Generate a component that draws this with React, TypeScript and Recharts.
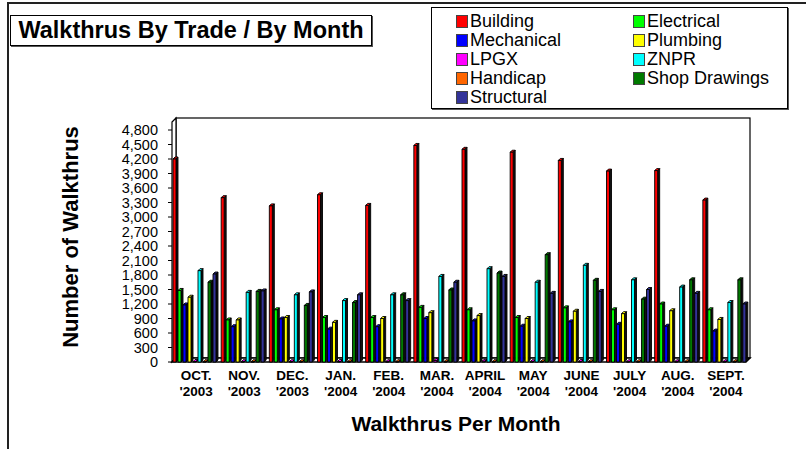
import React from "react";
import { BarChart, Bar, XAxis, YAxis, Customized } from "recharts";

const months = ["OCT.", "NOV.", "DEC.", "JAN.", "FEB.", "MAR.", "APRIL", "MAY", "JUNE", "JULY", "AUG.", "SEPT."];
const years = ["'2003", "'2003", "'2003", "'2004", "'2004", "'2004", "'2004", "'2004", "'2004", "'2004", "'2004", "'2004"];

const building = [4200, 3400, 3230, 3460, 3240, 4480, 4400, 4340, 4170, 3950, 3960, 3350];
const electrical = [1480, 870, 1080, 920, 920, 1130, 1080, 920, 1120, 1080, 1200, 1080];
const mechanical = [1180, 730, 890, 680, 730, 900, 850, 740, 830, 780, 740, 640];
const plumbing = [1340, 870, 920, 820, 900, 1020, 960, 900, 1050, 1000, 1060, 880];
const lpgx = [10, 5, 5, 10, 5, 30, 15, 5, 10, 5, 5, 5];
const znpr = [1890, 1440, 1390, 1270, 1390, 1770, 1930, 1650, 2000, 1700, 1550, 1230];
const handicap = [5, 5, 5, 5, 5, 5, 5, 5, 5, 5, 5, 5];
const shopDrawings = [1650, 1460, 1170, 1230, 1390, 1490, 1840, 2220, 1690, 1300, 1700, 1700];
const structural = [1820, 1470, 1450, 1390, 1270, 1650, 1770, 1420, 1460, 1500, 1420, 1200];

const yTicks = [0, 300, 600, 900, 1200, 1500, 1800, 2100, 2400, 2700, 3000, 3300, 3600, 3900, 4200, 4500, 4800];

const series = [
  { key: "Building", values: building, color: "#FF0000" },
  { key: "Electrical", values: electrical, color: "#00FF00" },
  { key: "Mechanical", values: mechanical, color: "#0000FF" },
  { key: "Plumbing", values: plumbing, color: "#FFFF00" },
  { key: "LPGX", values: lpgx, color: "#FF00FF" },
  { key: "ZNPR", values: znpr, color: "#00FFFF" },
  { key: "Handicap", values: handicap, color: "#FF6600" },
  { key: "Shop Drawings", values: shopDrawings, color: "#007A00" },
  { key: "Structural", values: structural, color: "#333399" },
];

const data = months.map((m, i) => {
  const row: Record<string, any> = { month: m, year: years[i] };
  series.forEach((s) => (row[s.key] = s.values[i]));
  return row;
});

const FONT = "Arial, 'Liberation Sans', sans-serif";

// plot box (matches chart margins below)
const PL = 172;
const PR = 750;
const PT = 130;
const PB = 362;
const D = 4;

const Bar3D = (props: any) => {
  const { x, y, width, height, fill } = props;
  if (!width || height == null || height <= 0) return null;
  const d = 2;
  const w = width - d;
  return (
    <g stroke="#000" strokeWidth={0.9} strokeLinejoin="round">
      <polygon points={`${x},${y} ${x + d},${y - d} ${x + w + d},${y - d} ${x + w},${y}`} fill={fill} />
      <polygon
        points={`${x + w},${y} ${x + w + d},${y - d} ${x + w + d},${y + height - d} ${x + w},${y + height}`}
        fill="#111"
      />
      <rect x={x} y={y} width={w} height={height} fill={fill} />
    </g>
  );
};

const Walls = () => (
  <g fill="none" stroke="#000">
    <rect x={PL + D} y={118} width={PR - PL - D} height={PB - D - 118} fill="#fff" strokeWidth={1.2} />
    <polygon points={`${PL},${122} ${PL + D},${118} ${PL + D},${PB - D} ${PL},${PB}`} fill="#fff" strokeWidth={1.2} />
    <polygon points={`${PL},${PB} ${PL + D},${PB - D} ${PR},${PB - D} ${PR - D},${PB}`} fill="#fff" strokeWidth={1.5} />
  </g>
);

const Titles = () => (
  <g fontFamily={FONT} fontWeight="bold" fill="#000">
    <text x={456} y={431} textAnchor="middle" fontSize={21}>
      Walkthrus Per Month
    </text>
    <text x={78} y={237} textAnchor="middle" fontSize={22} transform="rotate(-90 78 237)">
      Number of Walkthrus
    </text>
  </g>
);

const MonthTick = (props: any) => {
  const { x, payload } = props;
  const i = months.indexOf(payload.value);
  return (
    <text x={x} y={PB} textAnchor="middle" fontFamily={FONT} fontWeight="bold" fontSize={13.5} fill="#000">
      <tspan x={x} y={PB + 18}>{payload.value}</tspan>
      <tspan x={x} y={PB + 34}>{years[i]}</tspan>
    </text>
  );
};

const LegendBox = () => (
  <div
    style={{
      position: "absolute",
      left: 431,
      top: 7,
      width: 357,
      height: 102,
      border: "1px solid #000",
      boxShadow: "1px 1px 0 #555",
      background: "#fff",
      boxSizing: "border-box",
      padding: "4px 0 0 24px",
      display: "grid",
      gridTemplateColumns: "177px 150px",
      gridAutoRows: "19px",
      fontFamily: FONT,
      fontSize: 18,
      color: "#000",
    }}
  >
    {series.map((s) => (
      <div key={s.key} style={{ display: "flex", alignItems: "center", whiteSpace: "nowrap", lineHeight: "19px" }}>
        <span
          style={{
            display: "inline-block",
            width: 10,
            height: 11,
            background: s.color,
            border: "1px solid #444",
            marginRight: 2,
          }}
        />
        {s.key}
      </div>
    ))}
  </div>
);

export default function App() {
  return (
    <div style={{ position: "absolute", left: 0, top: 0, width: 806, height: 449, background: "#fff", overflow: "hidden" }}>
      <div
        style={{
          position: "absolute",
          left: 7,
          top: 2,
          width: 820,
          height: 460,
          borderTop: "2px solid #222",
          borderLeft: "2px solid #222",
        }}
      />
      <div
        style={{
          position: "absolute",
          left: 10,
          top: 15,
          width: 362,
          height: 31,
          boxSizing: "border-box",
          border: "1px solid #000",
          boxShadow: "1px 1px 0 #555",
          fontFamily: FONT,
          fontWeight: "bold",
          fontSize: 23.5,
          lineHeight: "29px",
          textAlign: "center",
          background: "#fff",
          whiteSpace: "nowrap",
        }}
      >
        Walkthrus By Trade / By Month
      </div>
      <LegendBox />
      <BarChart
        width={806}
        height={449}
        data={data}
        margin={{ top: PT, right: 806 - PR, bottom: 449 - PB - 30, left: PL - 60 }}
        barCategoryGap={1}
        barGap={0}
        style={{ position: "absolute", left: 0, top: 0 }}
      >
        <Customized component={Walls} />
        <XAxis dataKey="month" axisLine={false} tickLine={false} tick={<MonthTick />} interval={0} height={30} />
        <YAxis
          domain={[0, 4800]}
          ticks={yTicks}
          interval={0}
          axisLine={false}
          tickLine={{ stroke: "#000" }}
          tickSize={4}
          tickMargin={10}
          width={60}
          tickFormatter={(v: number) => v.toLocaleString("en-US")}
          tick={{ fontFamily: FONT, fontSize: 14.5, fill: "#000" }}
        />
        {series.map((s) => (
          <Bar key={s.key} dataKey={s.key} fill={s.color} shape={<Bar3D />} isAnimationActive={false} />
        ))}
        <Customized component={Titles} />
      </BarChart>
    </div>
  );
}
